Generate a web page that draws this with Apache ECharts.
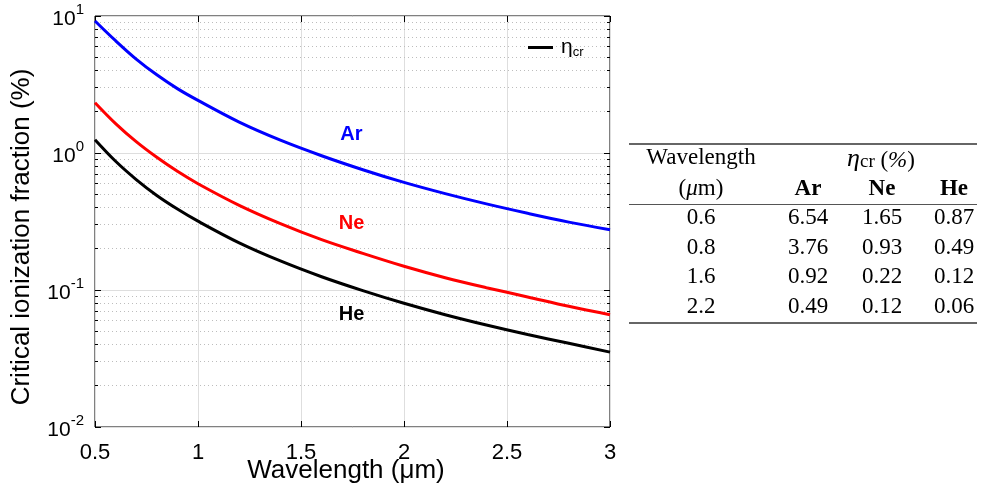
<!DOCTYPE html>
<html>
<head>
<meta charset="utf-8">
<script src="https://cdn.jsdelivr.net/npm/echarts@6/dist/echarts.min.js"></script>
<style>
  html, body { margin: 0; padding: 0; background: #ffffff; }
  #chart { width: 981px; height: 495px; }
</style>
</head>
<body>
<div id="chart"></div>
<script>
// Wavelength samples (µm) and critical ionization fraction (%) for each gas
const wavelengths = [0.5, 0.6, 0.7, 0.8, 0.9, 1.0, 1.2, 1.4, 1.6, 1.8, 2.0, 2.2, 2.4, 2.6, 2.8, 3.0];
const etaAr = [9.2, 6.6, 4.85, 3.72, 2.95, 2.42, 1.68, 1.24, 0.955, 0.755, 0.61, 0.505, 0.425, 0.363, 0.313, 0.275];
const etaNe = [2.33, 1.64, 1.21, 0.93, 0.735, 0.597, 0.415, 0.305, 0.233, 0.185, 0.149, 0.123, 0.104, 0.089, 0.076, 0.066];
const etaHe = [1.25, 0.87, 0.64, 0.49, 0.39, 0.318, 0.221, 0.163, 0.125, 0.099, 0.080, 0.066, 0.0555, 0.0473, 0.0408, 0.0352];

// Axis ranges
const xRange = [0.5, 3];
const xInterval = 0.5;
const yRange = [0.01, 10];
const yDecades = [0.01, 0.1, 1];

// Gas names and the data-space anchors of their in-plot labels
const gasNames = ['Ar', 'Ne', 'He'];
const labelAnchors = [[1.745, 1.37], [1.745, 0.307], [1.745, 0.0662]];

// Summary table
const tableHeadLeft = ['Wavelength', '(μm)'];
const tableRows = [
  [0.6, 6.54, 1.65, 0.87],
  [0.8, 3.76, 0.93, 0.49],
  [1.6, 0.92, 0.22, 0.12],
  [2.2, 0.49, 0.12, 0.06]
];

const gasColors = ['#0000ff', '#ff0000', '#000000'];
const sans = '"Liberation Sans", Arial, Helvetica, sans-serif';
const serif = '"Liberation Serif", "Times New Roman", serif';

// Minor log gridline values (2..9 within each decade)
const minorValues = [];
yDecades.forEach(d => { for (let k = 2; k <= 9; k++) minorValues.push(+(k * d).toPrecision(3)); });

const chart = echarts.init(document.getElementById('chart'), null, { renderer: 'canvas' });

const gridLeft = 95, gridTop = 16, gridW = 515, gridH = 411;

function crisp(v) { return Math.round(v - 0.5) + 0.5; }

const lineSeries = [etaAr, etaNe, etaHe].map((vals, i) => ({
  name: gasNames[i],
  type: 'line',
  xAxisIndex: 0, yAxisIndex: 0,
  data: wavelengths.map((w, j) => [w, vals[j]]),
  symbol: 'none',
  smooth: 0.35,
  lineStyle: { color: gasColors[i], width: 3 },
  itemStyle: { color: gasColors[i] },
  z: 5,
  silent: true
}));

const tableX = { left: 629, right: 977, colW: 701, cols: [808, 882, 954] };
const tableY = { top: 144, head1: 158, head2: 189, mid: 204, rows: [218, 247.5, 277, 306.5], bottom: 323 };
const tFont = '23px ' + serif;

const tableGraphics = [];
tableGraphics.push({ type: 'line', shape: { x1: tableX.left, y1: tableY.top, x2: tableX.right, y2: tableY.top }, style: { stroke: '#333', lineWidth: 1.5 } });
tableGraphics.push({ type: 'line', shape: { x1: tableX.left, y1: tableY.mid + 0.5, x2: tableX.right, y2: tableY.mid + 0.5 }, style: { stroke: '#555', lineWidth: 1 } });
tableGraphics.push({ type: 'line', shape: { x1: tableX.left, y1: tableY.bottom, x2: tableX.right, y2: tableY.bottom }, style: { stroke: '#333', lineWidth: 1.5 } });
tableGraphics.push({ type: 'text', x: tableX.colW, y: tableY.head1, style: { text: tableHeadLeft[0], font: tFont, fill: '#000', textAlign: 'center', textVerticalAlign: 'middle' } });
tableGraphics.push({ type: 'text', x: tableX.colW, y: tableY.head2, style: { text: '({mu|μ}m)', rich: { mu: { font: 'italic 23px ' + serif, fill: '#000' } }, font: tFont, fill: '#000', textAlign: 'center', textVerticalAlign: 'middle' } });
tableGraphics.push({
  type: 'text', x: (tableX.cols[0] + tableX.cols[2]) / 2, y: tableY.head1,
  style: {
    text: '{e|η}{s|cr}{n| (}{p|%}{n|)}',
    rich: {
      e: { font: 'italic 26px ' + serif, fill: '#000', verticalAlign: 'bottom', lineHeight: 28 },
      s: { font: '19px ' + serif, fill: '#000', verticalAlign: 'bottom', lineHeight: 28, padding: [0, 0, 0, 0] },
      n: { font: '23px ' + serif, fill: '#000', verticalAlign: 'bottom', lineHeight: 28 },
      p: { font: 'italic 23px ' + serif, fill: '#000', verticalAlign: 'bottom', lineHeight: 28 }
    },
    textAlign: 'center', textVerticalAlign: 'middle'
  }
});
gasNames.forEach((g, i) => {
  tableGraphics.push({ type: 'text', x: tableX.cols[i], y: tableY.head2, style: { text: g, font: 'bold 23px ' + serif, fill: '#000', textAlign: 'center', textVerticalAlign: 'middle' } });
});
tableRows.forEach((row, r) => {
  row.forEach((v, c) => {
    const x = c === 0 ? tableX.colW : tableX.cols[c - 1];
    tableGraphics.push({ type: 'text', x: x, y: tableY.rows[r], style: { text: String(v), font: tFont, fill: '#000', textAlign: 'center', textVerticalAlign: 'middle' } });
  });
});

const option = {
  animation: false,
  backgroundColor: '#ffffff',
  grid: {
    left: gridLeft, top: gridTop, width: gridW, height: gridH,
    show: true, borderColor: '#000', borderWidth: 1, backgroundColor: 'transparent'
  },
  legend: {
    data: [{ name: 'ηcr', icon: 'rect' }],
    left: 528, top: 37, padding: 0,
    itemWidth: 25, itemHeight: 3,
    formatter: () => '{e|η}{s|cr}',
    textStyle: {
      rich: {
        e: { fontFamily: sans, fontSize: 21, color: '#000', padding: [0, 0, 0, 3] },
        s: { fontFamily: sans, fontSize: 13, color: '#000', padding: [10, 0, 0, 0] }
      }
    }
  },
  xAxis: [
    {
      type: 'value', min: xRange[0], max: xRange[1], interval: xInterval,
      position: 'bottom',
      axisLine: { show: false },
      axisTick: { show: true, inside: true, length: 6, lineStyle: { color: '#000' } },
      axisLabel: { color: '#000', fontFamily: sans, fontSize: 22, margin: 15 },
      splitLine: { show: true, lineStyle: { color: '#dedede', width: 1 } }
    },
    {
      type: 'value', min: xRange[0], max: xRange[1], interval: xInterval,
      position: 'top',
      axisLine: { show: false },
      axisTick: { show: true, inside: true, length: 6, lineStyle: { color: '#000' } },
      axisLabel: { show: false },
      splitLine: { show: false }
    }
  ],
  yAxis: [
    {
      type: 'log', logBase: 10, min: yRange[0], max: yRange[1], splitNumber: 3,
      position: 'left',
      axisLine: { show: false },
      axisTick: { show: true, inside: true, length: 6, lineStyle: { color: '#000' } },
      axisLabel: {
        margin: 11,
        formatter: v => '{b|10}{s|' + Math.round(Math.log10(v)) + '}',
        rich: {
          b: { fontFamily: sans, fontSize: 21, color: '#000', verticalAlign: 'bottom', lineHeight: 27 },
          s: { fontFamily: sans, fontSize: 15, color: '#000', verticalAlign: 'top', lineHeight: 27 }
        }
      },
      splitLine: { show: true, lineStyle: { color: '#dedede', width: 1 } }
    },
    {
      type: 'log', logBase: 10, min: yRange[0], max: yRange[1], splitNumber: 3,
      position: 'right',
      axisLine: { show: false },
      axisTick: { show: true, inside: true, length: 6, lineStyle: { color: '#000' } },
      axisLabel: { show: false },
      splitLine: { show: false }
    }
  ],
  graphic: [
    {
      type: 'text', x: 22, y: 237, rotation: Math.PI / 2,
      style: { text: 'Critical ionization fraction (%)', font: '26px ' + sans, fill: '#000', textAlign: 'center', textVerticalAlign: 'middle' }
    },
    {
      type: 'text', x: 346, y: 471,
      style: { text: 'Wavelength (μm)', font: '26px ' + sans, fill: '#000', textAlign: 'center', textVerticalAlign: 'middle' }
    },
    ...tableGraphics
  ],
  series: [
    {
      // dotted minor gridlines plus short inward minor ticks on both y edges
      name: 'minorGrid',
      type: 'custom',
      xAxisIndex: 0, yAxisIndex: 0,
      silent: true,
      z: 1,
      data: minorValues.map(v => [xRange[0], v]),
      renderItem: (params, api) => {
        const v = api.value(1);
        const p0 = api.coord([xRange[0], v]);
        const p1 = api.coord([xRange[1], v]);
        const y = crisp(p0[1]);
        return {
          type: 'group',
          children: [
            { type: 'line', shape: { x1: p0[0] + 1, y1: y, x2: p1[0] - 1, y2: y }, style: { stroke: '#bdbdbd', lineWidth: 1, lineDash: [1, 3] } },
            { type: 'line', shape: { x1: p0[0], y1: y, x2: p0[0] + 3, y2: y }, style: { stroke: '#000', lineWidth: 1 } },
            { type: 'line', shape: { x1: p1[0] - 3, y1: y, x2: p1[0], y2: y }, style: { stroke: '#000', lineWidth: 1 } }
          ]
        };
      }
    },
    ...lineSeries,
    {
      name: 'ηcr',
      type: 'line',
      data: [],
      symbol: 'none',
      lineStyle: { color: '#000', width: 3 },
      itemStyle: { color: '#000' }
    },
    {
      name: 'gasLabels',
      type: 'scatter',
      silent: true,
      symbolSize: 0,
      z: 6,
      itemStyle: { opacity: 1 },
      data: gasNames.map((g, i) => ({
        name: g,
        value: labelAnchors[i],
        label: { color: gasColors[i] }
      })),
      label: {
        show: true, position: 'inside', formatter: '{b}', opacity: 1,
        textBorderWidth: 0,
        fontFamily: sans, fontSize: 20, fontWeight: 'bold'
      }
    }
  ]
};

chart.setOption(option);
</script>
</body>
</html>
